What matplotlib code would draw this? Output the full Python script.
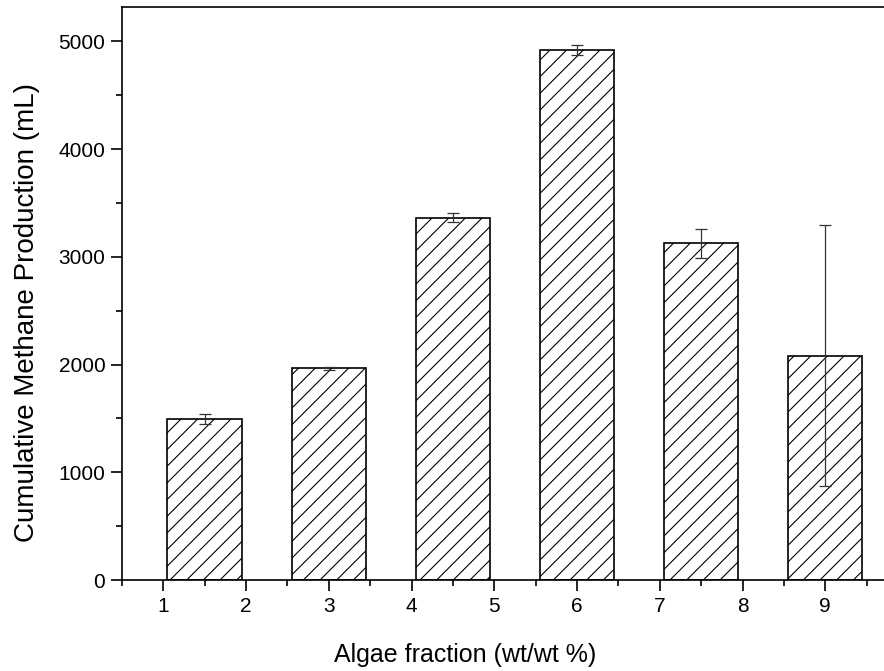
import matplotlib
matplotlib.use("Agg")
import matplotlib.pyplot as plt
from matplotlib.ticker import MultipleLocator

plt.rcParams["font.family"] = ["Liberation Sans", "DejaVu Sans"]
plt.rcParams["hatch.linewidth"] = 0.8

# Data
bar_x = [1.5, 3.0, 4.5, 6.0, 7.5, 9.0]
methane = [1495, 1965, 3365, 4920, 3125, 2082]
methane_err = [50, 15, 40, 50, 135, 1210]

fig = plt.figure(figsize=(8.84, 6.71), dpi=100, facecolor="white")
ax = fig.add_axes([0.138, 0.1356, 0.862, 0.854])

ax.bar(bar_x, methane, width=0.9, facecolor="white", edgecolor="black",
       linewidth=1.2, hatch="//", zorder=2)
ax.errorbar(bar_x, methane, yerr=methane_err, fmt="none", ecolor="#333333",
            elinewidth=0.9, capsize=4, capthick=0.9, zorder=3)

ax.set_xlim(0.5, 9.71)
ax.set_ylim(0, 5320)
ax.xaxis.set_major_locator(MultipleLocator(1))
ax.xaxis.set_minor_locator(MultipleLocator(0.5))
ax.yaxis.set_major_locator(MultipleLocator(1000))
ax.yaxis.set_minor_locator(MultipleLocator(500))
ax.set_xticks(range(1, 10))

ax.spines["right"].set_visible(False)
for s in ("left", "bottom", "top"):
    ax.spines[s].set_linewidth(1.2)

ax.tick_params(which="major", direction="out", length=8, width=1.2,
               labelsize=15, pad=4)
ax.tick_params(which="minor", direction="out", length=4, width=1.2)
ax.tick_params(top=False, right=False)

ax.set_xlabel("Algae fraction (wt/wt %)", fontsize=18)
ax.set_ylabel("Cumulative Methane Production (mL)", fontsize=20)
ax.xaxis.set_label_coords(0.45, -0.11)
ax.yaxis.set_label_coords(-0.108, 0.466)

plt.savefig("out.png", dpi=100, facecolor="white")
